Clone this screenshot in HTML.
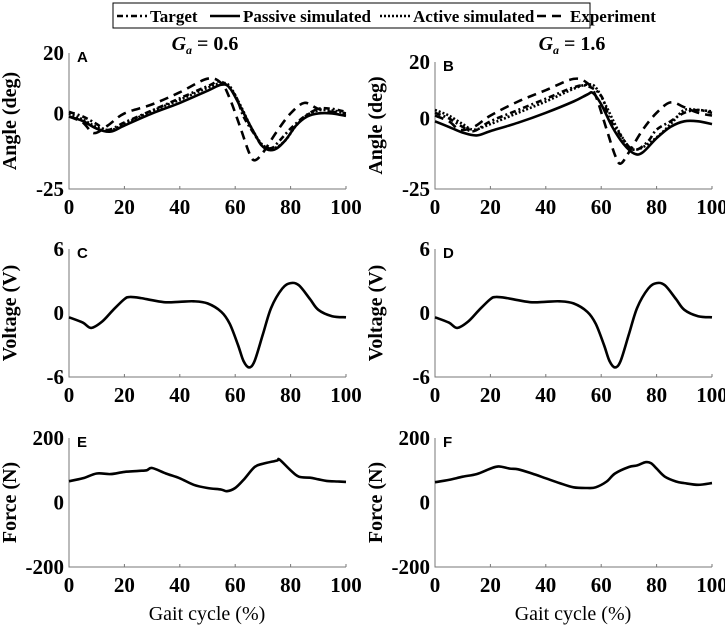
<!DOCTYPE html>
<html><head><meta charset="utf-8"><style>
body{margin:0;background:#fff}
svg text{font-family:"Liberation Serif",serif;font-weight:bold}
</style></head><body>
<svg id="c" width="725" height="636" viewBox="0 0 725 636">
<g>
<rect x="113" y="3" width="477" height="25" fill="#fff" stroke="#000" stroke-width="1"/>
<line x1="117" y1="16" x2="147" y2="16" stroke="#000" stroke-width="2.5" stroke-dasharray="6,3,2,3"/>
<text x="150" y="22" font-size="17">Target</text>
<line x1="210" y1="16" x2="240" y2="16" stroke="#000" stroke-width="2.5"/>
<text x="243" y="22" font-size="17">Passive simulated</text>
<line x1="380" y1="16" x2="410" y2="16" stroke="#000" stroke-width="2.5" stroke-dasharray="2,2"/>
<text x="413" y="22" font-size="17">Active simulated</text>
<line x1="537" y1="16" x2="567" y2="16" stroke="#000" stroke-width="2.5" stroke-dasharray="9,6"/>
<text x="570" y="22" font-size="17">Experiment</text>
</g>
<text x="205" y="50" font-size="20" text-anchor="middle"><tspan font-style="italic">G</tspan><tspan font-style="italic" font-size="12" dy="4">a</tspan><tspan dy="-4"> = 0.6</tspan></text>
<text x="572" y="50" font-size="20" text-anchor="middle"><tspan font-style="italic">G</tspan><tspan font-style="italic" font-size="12" dy="4">a</tspan><tspan dy="-4"> = 1.6</tspan></text>
</svg>
<script>
const angExpX = [0,5,9,14,20,30,40,50,55,58,62,65,67,70,75,80,85,90,95,100];
const angExpY = [-1,-3,-6.5,-4,0,3,7,11.5,10,5,-5,-13,-15.5,-13,-6,0,3.5,1.5,0.5,0];
const angExpBY = [1,-1,-4,-3,1,6,10,14,12.5,8,-4,-13,-16,-12,-4,2,5.7,4,2,1];
const angTgtAX = [0,5,10,14,20,30,40,50,55,60,63,67,70,73,75,80,85,90,95,100];
const angTgtAY = [0.5,-1,-3.5,-5.5,-3,1,5,9,10.5,6,-1,-7,-11,-11.5,-10,-5,-1,1.5,1.5,0.5];
const angPasAX = [0,5,10,15,20,30,40,50,55,58,62,66,70,74,78,82,86,90,95,100];
const angPasAY = [-1,-2.5,-5,-6,-4,0,3.5,7.5,9.5,8.5,2,-5,-11,-12,-9,-4,-1,0,0,-0.8];
const angActAY = [0,-2,-4.5,-5.5,-3.5,0.8,4.5,8.5,10,9,2.5,-5,-10.5,-11.5,-9,-4,-0.5,1,1,0];
const angTgtBX = [0,5,10,14,20,30,40,50,55,60,63,67,70,73,77,80,85,90,95,100];
const angTgtBY = [2,0,-3,-4.5,-1,3,7,11,11.5,8,0,-6,-10,-11,-8,-4,-1,2,3,2];
const angPasBX = [0,5,10,15,20,30,40,50,55,57,60,64,68,72,75,80,85,90,95,100];
const angPasBY = [-1,-3,-5,-6,-4.5,-1.5,2,6,8.5,9,5,-3,-9,-12.5,-12,-7,-3,-1,-1,-2];
const angActBX = [0,5,10,14,20,30,40,50,55,58,62,66,70,73,77,82,86,90,95,100];
const angActBY = [3,1,-2,-4,-2,2,6,10.5,12,11,4,-4,-10,-11,-9,-5,-1,3,3,2.5];
const voltX = [0,5,8,12,16,20,22,26,30,35,40,45,50,55,58,61,63,65,67,70,73,77,80,83,87,90,95,100];
const voltY = [-0.4,-0.9,-1.4,-0.8,0.3,1.3,1.5,1.4,1.2,1.0,1.05,1.1,0.9,0.1,-1,-3,-4.5,-5.1,-4.5,-2,0.5,2.3,2.8,2.6,1.3,0.3,-0.3,-0.4];
const forceEX = [0,5,10,15,20,25,28,30,35,40,45,50,55,57,60,63,67,70,75,76,80,83,87,90,93,97,100];
const forceEY = [66,75,90,88,95,98,100,107,90,75,55,45,40,35,45,70,110,120,130,133,100,80,77,72,67,65,64];
const forceFX = [0,5,10,15,20,23,27,30,35,40,45,50,55,58,62,65,70,73,76,78,80,83,87,90,95,100];
const forceFY = [63,70,80,88,105,112,105,103,90,75,60,47,45,47,65,90,110,115,125,122,105,80,65,60,55,60];
const xTicks = [0,20,40,60,80,100];

const svg = document.getElementById('c');
const NS = 'http://www.w3.org/2000/svg';
function mk(tag, attrs, parent){const e=document.createElementNS(NS,tag);for(const k in attrs)e.setAttribute(k,attrs[k]);(parent||svg).appendChild(e);return e;}
function pathD(pts){let d='M'+pts[0][0]+','+pts[0][1];for(let i=0;i<pts.length-1;i++){const p0=pts[Math.max(0,i-1)],p1=pts[i],p2=pts[i+1],p3=pts[Math.min(pts.length-1,i+2)];const c1=[p1[0]+(p2[0]-p0[0])/6,p1[1]+(p2[1]-p0[1])/6],c2=[p2[0]-(p3[0]-p1[0])/6,p2[1]-(p3[1]-p1[1])/6];d+=' C'+c1.join(',')+' '+c2.join(',')+' '+p2.join(',');}return d;}

function panel(id, x0, x1, top, bot, ymin, ymax, yLabels, ylab, letter, series){
  const g = mk('g',{});
  
  
  const sx = v => x0 + (v/100)*(x1-x0);
  const sy = v => bot - (v-ymin)/(ymax-ymin)*(bot-top);
  const ax = mk('path',{d:`M${x0},${top} L${x0},${bot} L${x1},${bot}`,fill:'none',stroke:'#777','stroke-width':1},g);
  
  
  xTicks.forEach(t=>{
    const tk = mk('line',{x1:sx(t),x2:sx(t),y1:bot,y2:bot-3,stroke:'#777'},g);
    
    
    const tl = mk('text',{x:sx(t),y:bot+25,'font-size':21,'text-anchor':'middle'},g);
    tl.textContent = t;
    
    
  });
  yLabels.forEach(t=>{
    const tl = mk('text',{x:x0-5,y:sy(t)+7,'font-size':21,'text-anchor':'end'},g);
    tl.textContent = t;
    
    
  });
  const cy=(top+bot)/2, lx=x0-53;
  const yl = mk('text',{x:lx,y:cy,'font-size':20,'text-anchor':'middle',transform:`rotate(-90 ${lx} ${cy})`},g);
  yl.textContent = ylab;
  
  
  const lt = mk('text',{x:x0+8,y:top+9,'font-size':15,style:'font-family:"Liberation Sans",sans-serif;font-weight:bold'},g);
  lt.textContent = letter;
  
  
  series.forEach(s=>{
    const pts = s.x.map((v,i)=>[sx(v).toFixed(1),sy(s.y[i]).toFixed(1)].map(Number));
    const p = mk('path',{d:pathD(pts),fill:'none',stroke:'#000','stroke-width':2.6,'stroke-dasharray':s.dash||'none','stroke-linejoin':'round'},g);
    
    
  });
}
const DT='6,3,2,3', DE='9,6', DA='2,2';
panel('a',69,346,53,189,-25,20,[20,0,-25],'Angle (deg)','A',[
 {name:'experiment',x:angExpX,y:angExpY,dash:DE},
 {name:'target',x:angTgtAX,y:angTgtAY,dash:DT},
 {name:'active',x:angPasAX,y:angActAY,dash:DA},
 {name:'passive',x:angPasAX,y:angPasAY}]);
panel('b',435,712,62,189,-25,20,[20,0,-25],'Angle (deg)','B',[
 {name:'experiment',x:angExpX,y:angExpBY,dash:DE},
 {name:'target',x:angTgtBX,y:angTgtBY,dash:DT},
 {name:'active',x:angActBX,y:angActBY,dash:DA},
 {name:'passive',x:angPasBX,y:angPasBY}]);
panel('c',69,346,249,377,-6,6,[6,0,-6],'Voltage (V)','C',[{name:'voltage',x:voltX,y:voltY}]);
panel('d',435,712,249,377,-6,6,[6,0,-6],'Voltage (V)','D',[{name:'voltage',x:voltX,y:voltY}]);
panel('e',69,346,438,567,-200,200,[200,0,-200],'Force (N)','E',[{name:'force',x:forceEX,y:forceEY}]);
panel('f',435,712,438,567,-200,200,[200,0,-200],'Force (N)','F',[{name:'force',x:forceFX,y:forceFY}]);
[[207,'x-axis-title-e'],[573,'x-axis-title-f']].forEach(([x,n])=>{
  const t = mk('text',{x:x,y:620,'font-size':20,'text-anchor':'middle',style:'font-weight:normal'});
  t.textContent='Gait cycle (%)';
  
  
});
</script>
</body></html>
